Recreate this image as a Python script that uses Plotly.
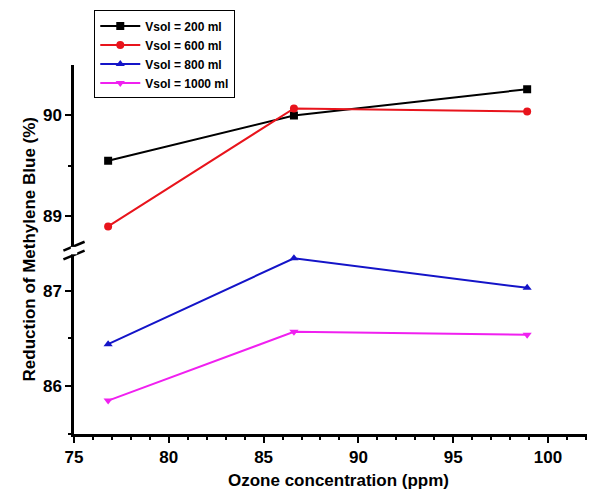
import plotly.graph_objects as go

ozone = [76.8, 86.6, 98.9]
v200 = [89.55, 90.0, 90.26]
v600 = [88.9, 90.07, 90.04]
v800 = [86.44, 87.34, 87.03]
v1000 = [85.85, 86.57, 86.54]

series = [
    ("<b>Vsol = 200 ml</b>", v200, "black", "square", "y2"),
    ("<b>Vsol = 600 ml</b>", v600, "#e8141c", "circle", "y2"),
    ("<b>Vsol = 800 ml</b>", v800, "#1414c8", "triangle-up", "y"),
    ("<b>Vsol = 1000 ml</b>", v1000, "#f020f0", "triangle-down", "y"),
]

fig = go.Figure()
for name, vals, col, sym, ax in series:
    fig.add_trace(go.Scatter(x=ozone, y=vals, name=name, yaxis=ax,
                             mode="lines+markers",
                             line=dict(color=col, width=2),
                             marker=dict(color=col, symbol=sym, size=8)))

split = 0.497
axis_common = dict(showline=True, linecolor="black", linewidth=2.5,
                   ticks="outside", tickwidth=2, ticklen=6, tickcolor="black",
                   showgrid=False, zeroline=False,
                   tickfont=dict(size=17, color="black", family="Liberation Sans", weight="bold"),
                   minor=dict(ticks="outside", ticklen=3, tickwidth=2, tickcolor="black"))

fig.update_layout(
    width=595, height=496,
    margin=dict(l=66, r=0, t=57, b=70, autoexpand=False),
    plot_bgcolor="white", paper_bgcolor="white",
    font=dict(family="Liberation Sans, Arial", color="black"),
    showlegend=True,
    xaxis=dict(range=[75, 102.9], dtick=5, anchor="y",
               title=dict(text="<b>Ozone concentration (ppm)</b>", font=dict(size=17), standoff=8),
               **axis_common),
    yaxis=dict(domain=[0, split], range=[85.5, 87.42], tickvals=[86, 87],
               minor_tickvals=[85.5, 86.5], **axis_common),
    yaxis2=dict(domain=[split, 1], range=[88.66, 90.5], tickvals=[89, 90],
                minor_tickvals=[89.5], anchor="x", **axis_common),
    legend=dict(x=0.145, y=0.995, xref="container", yref="container",
                xanchor="left", yanchor="top",
                bgcolor="white", bordercolor="black", borderwidth=1,
                font=dict(size=12), tracegroupgap=0, itemwidth=40),
    annotations=[dict(text="<b>Reduction of Methylene Blue (%)</b>", x=-0.105, y=0.5,
                      xref="paper", yref="paper", textangle=-90, showarrow=False,
                      font=dict(size=17))],
)

# axis break marks
for dy in (-0.012, 0.012):
    fig.add_shape(type="line", xref="paper", yref="paper",
                  x0=-0.02, x1=0.02, y0=split + dy - 0.012, y1=split + dy + 0.012,
                  line=dict(color="black", width=2.5))
fig.add_shape(type="rect", xref="paper", yref="paper", x0=-0.006, x1=0.006,
              y0=split - 0.01, y1=split + 0.01, fillcolor="white", line=dict(width=0))

fig.write_html("out.html")
